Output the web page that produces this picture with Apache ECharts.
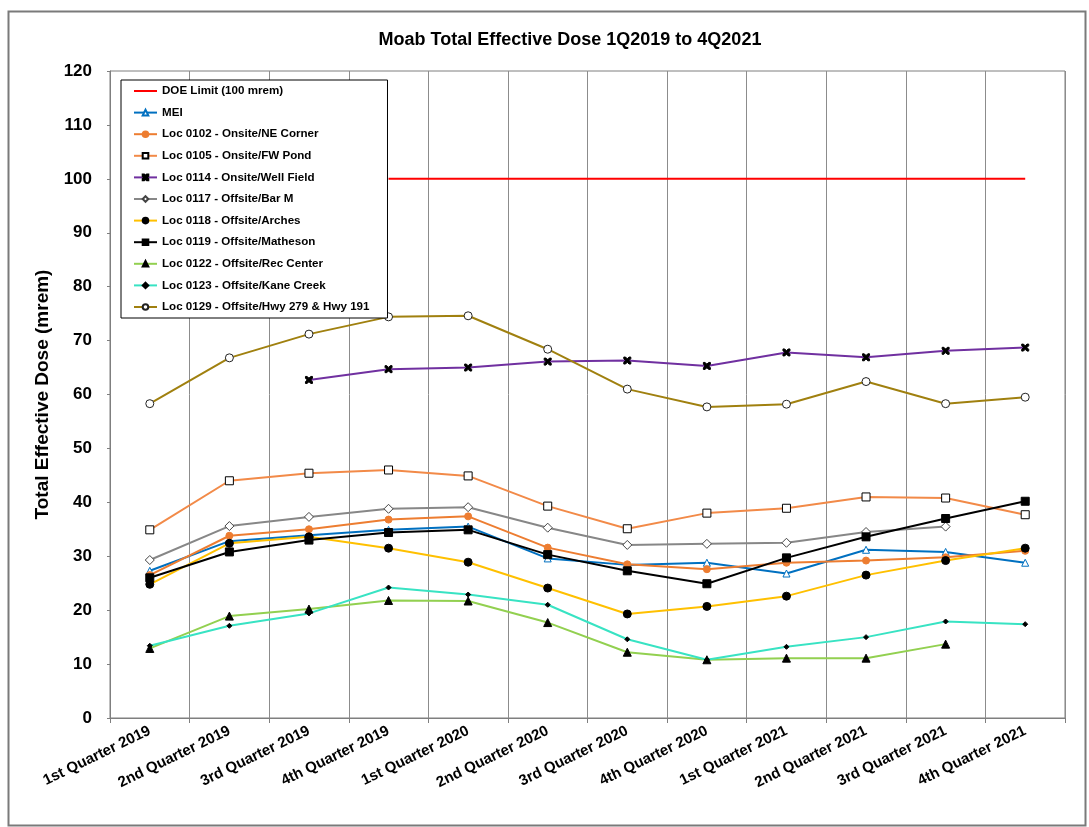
<!DOCTYPE html>
<html>
<head>
<meta charset="utf-8">
<title>Moab Total Effective Dose</title>
<script src="https://cdn.jsdelivr.net/npm/echarts@6/dist/echarts.min.js"></script>
<style>
    html, body { margin: 0; padding: 0; background: #fff; }
    #doseChart { width: 1089px; height: 827px; }
</style>
</head>
<body>
<div id="doseChart"></div>
<script type="text/javascript">
    // quarters on the x axis
    var quarters = ['1st Quarter 2019', '2nd Quarter 2019', '3rd Quarter 2019', '4th Quarter 2019',
        '1st Quarter 2020', '2nd Quarter 2020', '3rd Quarter 2020', '4th Quarter 2020',
        '1st Quarter 2021', '2nd Quarter 2021', '3rd Quarter 2021', '4th Quarter 2021'];

    var doeLimit = [null, null, null, 100, 100, 100, 100, 100, 100, 100, 100, 100];
    var mei      = [27.3, 32.8, 33.9, 34.9, 35.5, 29.6, 28.4, 28.8, 26.8, 31.2, 30.8, 28.8];
    var loc0102  = [26.5, 33.8, 35.0, 36.8, 37.4, 31.6, 28.5, 27.6, 28.8, 29.2, 29.8, 31.0];
    var loc0105  = [34.9, 44.0, 45.4, 46.0, 44.9, 39.3, 35.1, 38.0, 38.9, 41.0, 40.8, 37.7];
    var loc0114  = [null, null, 62.7, 64.7, 65.0, 66.1, 66.3, 65.3, 67.8, 66.9, 68.1, 68.7];
    var loc0117  = [29.3, 35.6, 37.3, 38.8, 39.1, 35.3, 32.1, 32.3, 32.5, 34.5, 35.5, null];
    var loc0118  = [24.8, 32.4, 33.6, 31.5, 28.9, 24.1, 19.3, 20.7, 22.6, 26.5, 29.2, 31.5];
    var loc0119  = [26.0, 30.8, 33.0, 34.4, 34.9, 30.3, 27.3, 24.9, 29.7, 33.6, 37.0, 40.2];
    var loc0122  = [12.9, 18.9, 20.2, 21.8, 21.7, 17.7, 12.2, 10.8, 11.1, 11.1, 13.7, null];
    var loc0123  = [13.4, 17.1, 19.4, 24.2, 22.9, 21.0, 14.6, 10.8, 13.2, 15.0, 17.9, 17.4];
    var loc0129  = [58.3, 66.8, 71.2, 74.4, 74.6, 68.4, 61.0, 57.7, 58.2, 62.4, 58.3, 59.5];

    var crossMark = 'path://M0,0L2.5,0L5,2.5L7.5,0L10,0L10,2.5L7.5,5L10,7.5L10,10L7.5,10L5,7.5L2.5,10L0,10L0,7.5L2.5,5L0,2.5Z';

    function makeLine(name, data, lineColor, symbol, size, fill, border){
        return {
            name: name,
            type: 'line',
            data: data,
            symbol: symbol,
            symbolSize: size,
            showSymbol: symbol !== 'none',
            lineStyle: {
                color: lineColor,
                width: 2
            },
            itemStyle: {
                color: fill,
                borderColor: border,
                borderWidth: 1
            },
            emphasis: { disabled: true }
        };
    }

    var seriesList = [
        makeLine('DOE Limit (100 mrem)', doeLimit, '#ff0000', 'none', 0, '#ff0000', '#ff0000'),
        makeLine('MEI', mei, '#0070c0', 'triangle', 7, '#fff', '#0070c0'),
        makeLine('Loc 0102 - Onsite/NE Corner', loc0102, '#ed7d31', 'circle', 7, '#ed7d31', '#ed7d31'),
        makeLine('Loc 0105 - Onsite/FW Pond', loc0105, '#f28a48', 'rect', 8, '#fff', '#000'),
        makeLine('Loc 0114 - Onsite/Well Field', loc0114, '#7030a0', crossMark, 7, '#000', '#000'),
        makeLine('Loc 0117 - Offsite/Bar M', loc0117, '#878787', 'diamond', 9, '#fff', '#444'),
        makeLine('Loc 0118 - Offsite/Arches', loc0118, '#ffc000', 'circle', 8, '#000', '#000'),
        makeLine('Loc 0119 - Offsite/Matheson', loc0119, '#000000', 'rect', 8, '#000', '#000'),
        makeLine('Loc 0122 - Offsite/Rec Center', loc0122, '#92d050', 'triangle', 8, '#000', '#000'),
        makeLine('Loc 0123 - Offsite/Kane Creek', loc0123, '#38e3c3', 'diamond', 5, '#000', '#000'),
        makeLine('Loc 0129 - Offsite/Hwy 279 & Hwy 191', loc0129, '#a0800f', 'circle', 8, '#fff', '#222')
    ];

    // DOE limit has no marker, so hide the legend symbol but keep its line
    var legendData = seriesList.map(function (s) {
        if (s.symbol === 'none') {
            return { name: s.name, itemStyle: { color: 'rgba(0,0,0,0)', borderColor: 'rgba(0,0,0,0)', borderWidth: 0 } };
        }
        return { name: s.name };
    });

    var doseOption = {
        backgroundColor: '#fff',
        animation: false,
        title: {
            text: 'Moab Total Effective Dose 1Q2019 to 4Q2021',
            left: 565,
            top: 26,
            textAlign: 'center',
            textStyle: {
                fontFamily: 'Liberation Sans',
                fontWeight: 'bold',
                fontSize: 18,
                color: '#000'
            }
        },
        graphic: [{
            type: 'rect',
            left: 6,
            top: 9,
            shape: { width: 1077, height: 814 },
            style: { fill: 'none', stroke: '#7a7a7a', lineWidth: 2 },
            silent: true
        }],
        legend: {
            data: legendData,
            orient: 'vertical',
            left: 121,
            top: 80,
            backgroundColor: '#fff',
            borderColor: '#000',
            borderWidth: 1,
            padding: [5, 18, 5, 12],
            itemWidth: 23,
            itemHeight: 7,
            itemGap: 9.6,
            textStyle: {
                fontFamily: 'Liberation Sans',
                fontWeight: 'bold',
                fontSize: 11.6,
                color: '#000'
            }
        },
        grid: {
            left: 110,
            right: 24,
            top: 71,
            bottom: 109,
            show: true,
            borderColor: '#7f7f7f',
            borderWidth: 1
        },
        xAxis: {
            type: 'category',
            data: quarters,
            boundaryGap: true,
            axisLine: { lineStyle: { color: '#7f7f7f', width: 1 } },
            axisTick: { show: true, length: 5, lineStyle: { color: '#7f7f7f' } },
            splitLine: { show: true, lineStyle: { color: '#8c8c8c', width: 1 } },
            axisLabel: {
                rotate: 26,
                interval: 0,
                margin: 12,
                fontFamily: 'Liberation Sans',
                fontWeight: 'bold',
                fontSize: 15,
                color: '#000'
            }
        },
        yAxis: {
            type: 'value',
            min: 0,
            max: 120,
            interval: 10,
            name: 'Total Effective Dose (mrem)',
            nameLocation: 'middle',
            nameGap: 56,
            nameTextStyle: {
                fontFamily: 'Liberation Sans',
                fontWeight: 'bold',
                fontSize: 19,
                color: '#000'
            },
            axisLine: { show: true, lineStyle: { color: '#7f7f7f' } },
            axisTick: { show: true, length: 3, lineStyle: { color: '#7f7f7f' } },
            splitLine: { show: false },
            axisLabel: {
                margin: 18,
                fontFamily: 'Liberation Sans',
                fontWeight: 'bold',
                fontSize: 17,
                color: '#000'
            }
        },
        series: seriesList
    };

    var doseChart = echarts.init(document.getElementById('doseChart'));
    doseChart.setOption(doseOption);
</script>
</body>
</html>
